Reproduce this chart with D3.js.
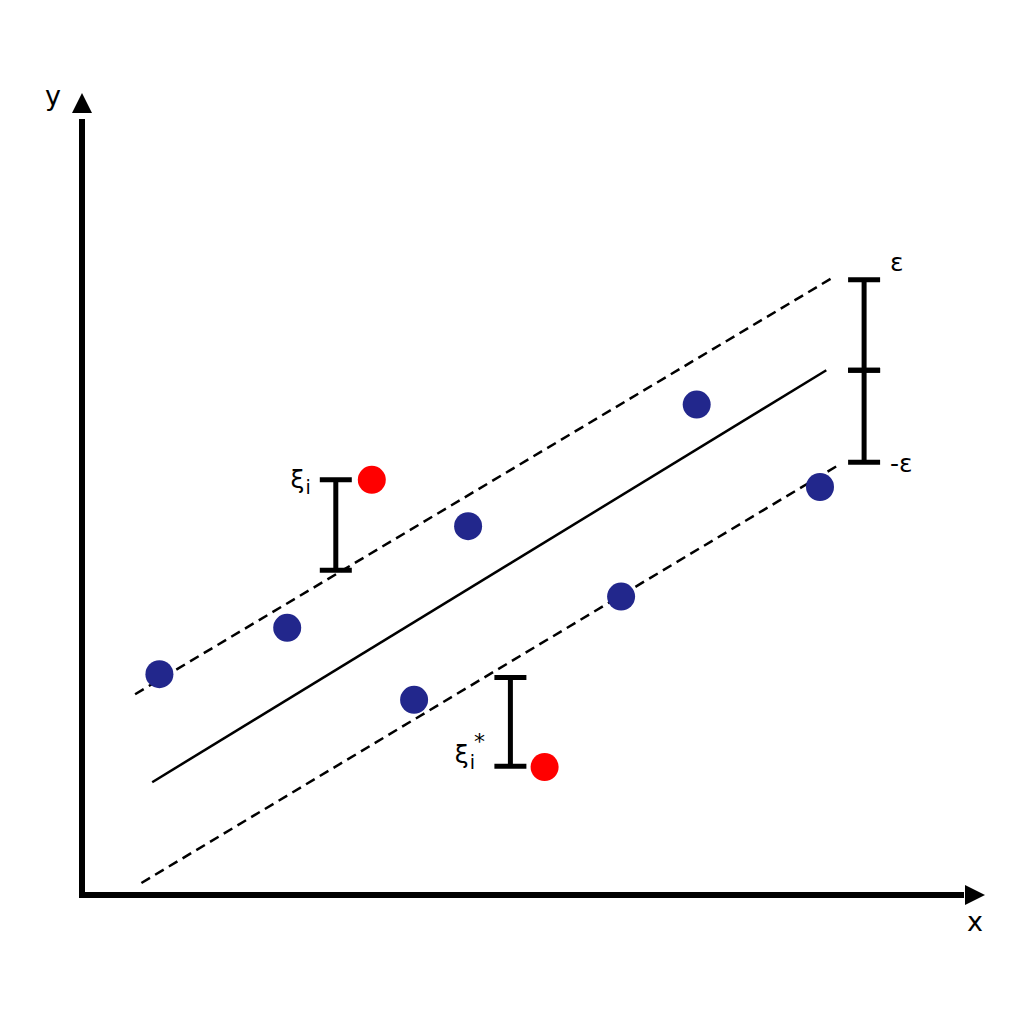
<!DOCTYPE html>
<html>
<head>
<meta charset="utf-8">
<script src="https://d3js.org/d3.v7.min.js"></script>
<style>
body { margin: 0; background: #fff; }
text { font-family: "DejaVu Sans", sans-serif; fill: #000; }
</style>
</head>
<body>
<div id="chart"></div>
<script>
// data (arbitrary units, origin at axis corner)
var bluePoints = [
	[0.86, 2.76], [2.28, 3.34], [3.69, 2.44], [4.29, 4.61],
	[5.99, 3.73], [6.83, 6.13], [8.20, 5.10]
];
var redPoints = [[3.22, 5.19], [5.14, 1.60]];

// regression line and epsilon tube
var fitLine = [[0.78, 1.41], [8.27, 6.56]];
var upperLine = [[0.59, 2.51], [8.33, 7.71]];
var lowerLine = [[0.66, 0.15], [8.40, 5.37]];

// slack bars: x, y from, y to, label
var slackBars = [
	{x: 2.82, y0: 5.19, y1: 4.06, label: "ξ", sup: "", lx: 2.43, ly: 5.19},
	{x: 4.76, y0: 2.72, y1: 1.61, label: "ξ", sup: "*", lx: 4.31, ly: 1.75}
];
var epsBar = {x: 8.69, ticks: [7.69, 6.56, 5.41]};

var svgWidth = 1024, svgHeight = 1024;
var origin = {x: 82, y: 895};

var svg = d3.select("#chart").append("svg")
	.attr("width", svgWidth)
	.attr("height", svgHeight);

var xScale = d3.scaleLinear().domain([0, 10]).range([origin.x, origin.x + 900]);
var yScale = d3.scaleLinear().domain([0, 10]).range([origin.y, origin.y - 800]);

// axes
svg.append("line")
	.attr("x1", xScale(0)).attr("y1", yScale(0) + 3)
	.attr("x2", xScale(0)).attr("y2", yScale(9.7))
	.attr("stroke", "#000").attr("stroke-width", 6);
svg.append("line")
	.attr("x1", xScale(0) - 3).attr("y1", yScale(0))
	.attr("x2", xScale(9.8)).attr("y2", yScale(0))
	.attr("stroke", "#000").attr("stroke-width", 6);

// arrow heads
var ax = xScale(0), ayTop = yScale(10) - 2;
svg.append("path")
	.attr("d", `M${ax},${ayTop} L${ax - 10},${ayTop + 20} L${ax + 10},${ayTop + 20} Z`)
	.attr("fill", "#000");
var axRight = xScale(10) + 3, ay = yScale(0);
svg.append("path")
	.attr("d", `M${axRight},${ay} L${axRight - 20},${ay - 10} L${axRight - 20},${ay + 10} Z`)
	.attr("fill", "#000");

svg.append("text").attr("x", ax - 29).attr("y", ayTop + 12)
	.attr("text-anchor", "middle").style("font-size", "27px").text("y");
svg.append("text").attr("x", axRight - 10).attr("y", ay + 36)
	.attr("text-anchor", "middle").style("font-size", "27px").text("x");

// lines
var line = d3.line().x(d => xScale(d[0])).y(d => yScale(d[1]));
svg.append("path").attr("d", line(fitLine))
	.attr("stroke", "#000").attr("stroke-width", 2.5).attr("fill", "none");
[upperLine, lowerLine].forEach(function(l){
	svg.append("path").attr("d", line(l))
		.attr("stroke", "#000").attr("stroke-width", 2.5)
		.attr("stroke-dasharray", "10,6").attr("fill", "none");
});

// bars
function bar(x, y0, y1) {
	var g = svg.append("g").attr("stroke", "#000").attr("stroke-width", 5);
	g.append("line").attr("x1", xScale(x)).attr("x2", xScale(x))
		.attr("y1", yScale(y0)).attr("y2", yScale(y1));
	[y0, y1].forEach(function(y){
		g.append("line").attr("x1", xScale(x) - 16).attr("x2", xScale(x) + 16)
			.attr("y1", yScale(y)).attr("y2", yScale(y));
	});
}
slackBars.forEach(function(b){
	bar(b.x, b.y0, b.y1);
	var t = svg.append("text").attr("x", xScale(b.lx)).attr("y", yScale(b.ly) + 8)
		.style("font-size", "25px").attr("text-anchor", "middle");
	t.append("tspan").text(b.label);
	t.append("tspan").attr("dx", 1).attr("dy", 6).style("font-size", "19px").text("i");
	if (b.sup) {
		t.append("tspan").attr("dx", -1).attr("dy", -20).style("font-size", "22px").text(b.sup);
	}
});
bar(epsBar.x, epsBar.ticks[0], epsBar.ticks[1]);
bar(epsBar.x, epsBar.ticks[1], epsBar.ticks[2]);
svg.append("text").attr("x", xScale(epsBar.x) + 26).attr("y", yScale(epsBar.ticks[0]) - 9)
	.style("font-size", "25px").text("ε");
svg.append("text").attr("x", xScale(epsBar.x) + 26).attr("y", yScale(epsBar.ticks[2]) + 10)
	.style("font-size", "25px").text("-ε");

// points
svg.selectAll(".blue").data(bluePoints).enter().append("circle")
	.attr("class", "blue")
	.attr("cx", d => xScale(d[0])).attr("cy", d => yScale(d[1]))
	.attr("r", 14).attr("fill", "#22278c");
svg.selectAll(".red").data(redPoints).enter().append("circle")
	.attr("class", "red")
	.attr("cx", d => xScale(d[0])).attr("cy", d => yScale(d[1]))
	.attr("r", 14).attr("fill", "#ff0000");
</script>
</body>
</html>
